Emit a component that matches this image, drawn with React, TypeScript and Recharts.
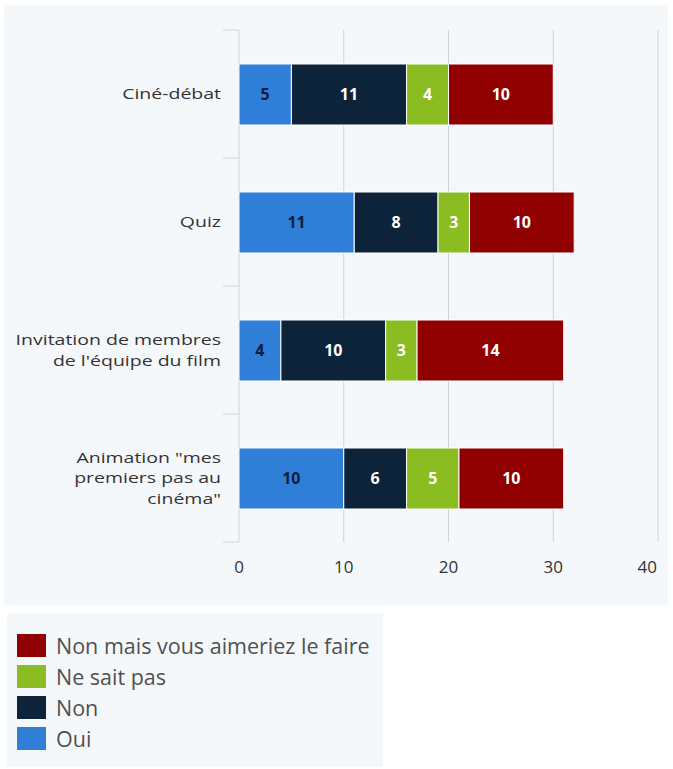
import { BarChart, Bar, XAxis, YAxis, CartesianGrid, LabelList } from 'recharts'

const CATEGORIES = [
  'Ciné-débat',
  'Quiz',
  "Invitation de membres\nde l'équipe du film",
  'Animation "mes\npremiers pas au\ncinéma"',
]
const OUI = [5, 11, 4, 10]
const NON = [11, 8, 10, 6]
const NE_SAIT_PAS = [4, 3, 3, 5]
const NON_MAIS = [10, 10, 14, 10]
const X_TICKS = [0, 10, 20, 30, 40]

// stacking order, left to right
const SERIES = [
  { key: 'oui', name: 'Oui', color: '#2f7ed8', label: '#0d1f3a' },
  { key: 'non', name: 'Non', color: '#0d233a', label: '#ffffff' },
  { key: 'nsp', name: 'Ne sait pas', color: '#8bbc21', label: '#ffffff' },
  { key: 'nonMais', name: 'Non mais vous aimeriez le faire', color: '#910000', label: '#ffffff' },
]

const data = CATEGORIES.map((name, i) => ({
  name,
  oui: OUI[i],
  non: NON[i],
  nsp: NE_SAIT_PAS[i],
  nonMais: NON_MAIS[i],
}))

const FONT = '"Open Sans", sans-serif'
const PANEL = '#f5f8fb'
const GRID = '#cfd3d8'
const BAND = 128
const LINE_H = 20.5

// the reference's labels are drawn a bit wide, so stretch them sideways
function CategoryTick(props: any) {
  const { x, y, payload, index } = props
  const lines = String(payload.value).split('\n')
  const first = -((lines.length - 1) * LINE_H) / 2
  return (
    <g>
      <line x1={x - 16} x2={x} y1={y - BAND / 2} y2={y - BAND / 2} stroke={GRID} />
      {index === CATEGORIES.length - 1 && (
        <line x1={x - 16} x2={x} y1={y + BAND / 2} y2={y + BAND / 2} stroke={GRID} />
      )}
      <text transform={`translate(${x - 18} ${y}) scale(1.3 1)`} textAnchor="end"
        fill="#333" fontSize={15} fontFamily={FONT}>
        {lines.map((l, i) => (
          <tspan key={i} x={0} y={first + i * LINE_H} dy="0.36em">{l}</tspan>
        ))}
      </text>
    </g>
  )
}

function ValueTick(props: any) {
  const { x, y, payload } = props
  const last = payload.value === X_TICKS[X_TICKS.length - 1]
  return (
    <text x={last ? x - 1 : x} y={y + 31} textAnchor={last ? 'end' : 'middle'}
      fill="#333" fontSize={17} fontFamily={FONT}>
      {payload.value}
    </text>
  )
}

export default function App() {
  return (
    <div style={{ position: 'absolute', left: 0, top: 0, width: 673, height: 769, background: '#fff' }}>
      <div style={{ position: 'absolute', left: 4, top: 5, width: 664, height: 600, background: PANEL }}>
        <BarChart width={664} height={600} data={data} layout="vertical"
          margin={{ top: 25, right: 10, bottom: 0, left: 0 }} barSize={61}>
          <CartesianGrid horizontal={false} stroke={GRID} />
          <XAxis type="number" domain={[0, 40]} ticks={X_TICKS} height={63}
            axisLine={false} tickLine={false} tickSize={0} tickMargin={0} tick={ValueTick} />
          <YAxis type="category" dataKey="name" width={235}
            axisLine={false} tickLine={false} tickSize={0} tickMargin={0} tick={CategoryTick} />
          {SERIES.map((s) => (
            <Bar key={s.key} dataKey={s.key} name={s.name} stackId="a" fill={s.color}
              stroke="#ffffff" strokeWidth={1} isAnimationActive={false}>
              <LabelList dataKey={s.key} position="center" fill={s.label}
                style={{ fontFamily: FONT, fontWeight: 700, fontSize: 16 }} />
            </Bar>
          ))}
        </BarChart>
      </div>
      <div style={{
        position: 'absolute', left: 7, top: 613, width: 376, height: 154, background: PANEL,
        fontFamily: FONT, fontSize: 21.5, color: '#505050',
      }}>
        {[...SERIES].reverse().map((s, i) => (
          <div key={s.key} style={{ position: 'absolute', left: 10, top: 21 + i * 31, height: 23, display: 'flex', alignItems: 'center', whiteSpace: 'nowrap' }}>
            <span style={{ width: 29, height: 23, background: s.color, marginRight: 10, flex: 'none' }} />
            <span>{s.name}</span>
          </div>
        ))}
      </div>
    </div>
  )
}
